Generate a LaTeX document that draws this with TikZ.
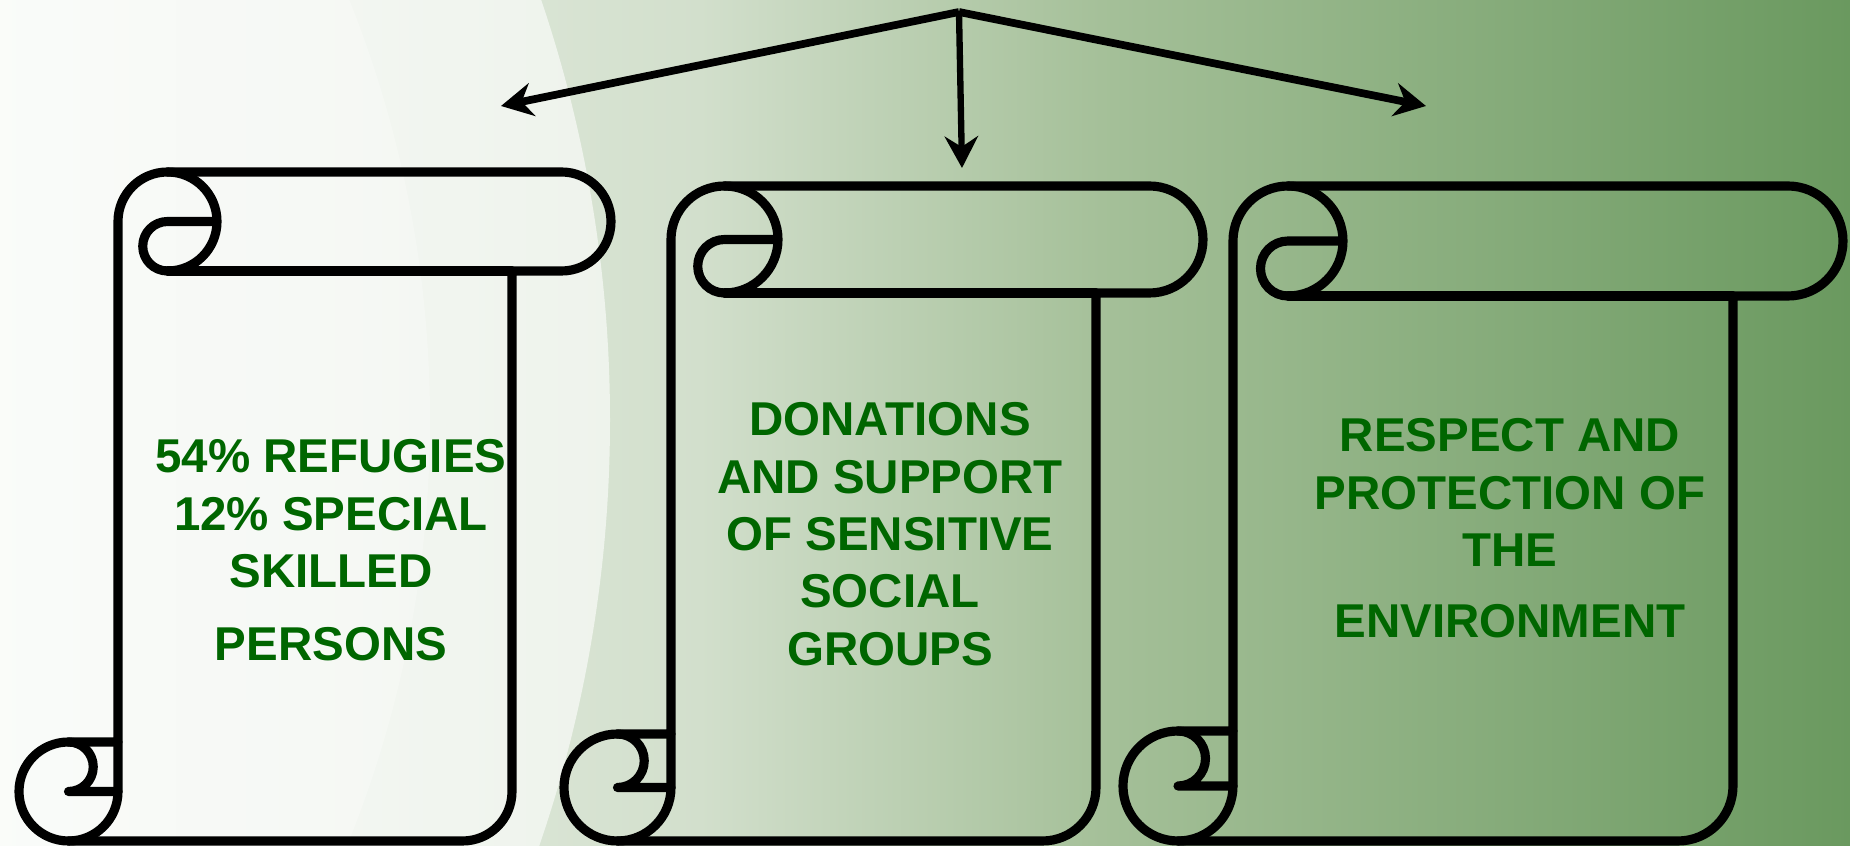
\documentclass[tikz,border=0pt]{standalone}
\usepackage{fontspec}
\setmainfont{Liberation Sans}
\usetikzlibrary{arrows.meta}

\definecolor{textgreen}{RGB}{0,102,0}
\definecolor{bgA}{RGB}{240,245,238}
\definecolor{bgB}{RGB}{210,223,204}
\definecolor{bgC}{RGB}{165,192,153}
\definecolor{bgD}{RGB}{106,153,95}

\tikzset{
  scrollline/.style={black, line width=2.6pt, line cap=round, line join=round},
  arrowline/.style={black, line width=2.2pt, -{Stealth[length=9pt,width=9.5pt,inset=3pt]}},
  scrolltext/.style={textgreen, align=center, inner sep=0pt,
    font=\fontsize{13.5}{16.3}\selectfont\bfseries}
}

\newcommand{\drawscroll}[5]{%
  \pgfmathsetmacro{\scH}{#5/2}%
  \pgfmathsetmacro{\scQ}{#5/4}%
  \pgfmathsetmacro{\scXa}{#1+#5/2}%
  \pgfmathsetmacro{\scXb}{#1+#5}%
  \pgfmathsetmacro{\scXc}{#1+1.5*#5}%
  \pgfmathsetmacro{\scXd}{#1+2*#5}%
  \pgfmathsetmacro{\scXe}{#3-#5}%
  \pgfmathsetmacro{\scXf}{#3-#5/2}%
  \pgfmathsetmacro{\scYa}{#2+#5/2}%
  \pgfmathsetmacro{\scYb}{#2+#5}%
  \pgfmathsetmacro{\scYc}{#4-#5}%
  \pgfmathsetmacro{\scYd}{#4-#5/2}%
  \draw[scrollline] (\scXb,\scYc) -- (\scXb,\scYa)
    arc[start angle=180, end angle=270, radius=\scH] -- (\scXf,#2)
    arc[start angle=270, end angle=450, radius=\scH] -- (\scXe,\scYb) -- (\scXe,\scYd)
    arc[start angle=0, end angle=90, radius=\scH] -- (\scXa,#4)
    arc[start angle=90, end angle=270, radius=\scH] -- cycle;
  \draw[scrollline] (\scXc,#2) arc[start angle=270, end angle=450, radius=\scH]
    arc[start angle=90, end angle=270, radius=\scQ] -- (\scXd,\scYa);
  \draw[scrollline] (\scXc,\scYb) -- (\scXe,\scYb);
  \draw[scrollline] (\scXa,\scYc) arc[start angle=270, end angle=450, radius=\scQ] -- (\scXb,\scYd);
  \draw[scrollline] (\scXa,#4) arc[start angle=90, end angle=0, radius=\scH] -- (\scXb,\scYc);
}

\begin{document}
\begin{tikzpicture}[x=0.01cm, y=-0.01cm]
  \useasboundingbox (0,0) rectangle (1850,846);
  \shade[left color=bgA, right color=bgB] (0,0) rectangle (701,846);
  \shade[left color=bgB, right color=bgC] (700,0) rectangle (1101,846);
  \shade[left color=bgC, right color=bgD] (1100,0) rectangle (1850,846);
  \fill[white, opacity=0.6] (-700,420) circle (1310);
  \fill[white, opacity=0.25] (-700,420) circle (1130);

  \drawscroll{19}{172}{611}{841}{99}
  \drawscroll{564}{186}{1203}{841}{107}
  \drawscroll{1123}{186}{1843}{841}{110}

  \coordinate (apex) at (959,12);
  \coordinate (tipL) at (501,106);
  \coordinate (tipM) at (962,168);
  \coordinate (tipR) at (1426,106);
  \draw[arrowline] (apex) -- (tipL);
  \draw[arrowline, line width=1.8pt] (apex) -- (tipM);
  \draw[arrowline] (apex) -- (tipR);

  \node[scrolltext, anchor=north] (txtA) at (331,439)
    {54\% REFUGIES\\12\% SPECIAL\\SKILLED\\[4.5pt]PERSONS};
  \node[scrolltext, anchor=north] (txtB) at (890,402)
    {DONATIONS\\AND SUPPORT\\OF SENSITIVE\\SOCIAL\\GROUPS};
  \node[scrolltext, anchor=north] (txtC) at (1510,418)
    {RESPECT AND\\PROTECTION OF\\THE\\[4pt]ENVIRONMENT};
\end{tikzpicture}
\end{document}
